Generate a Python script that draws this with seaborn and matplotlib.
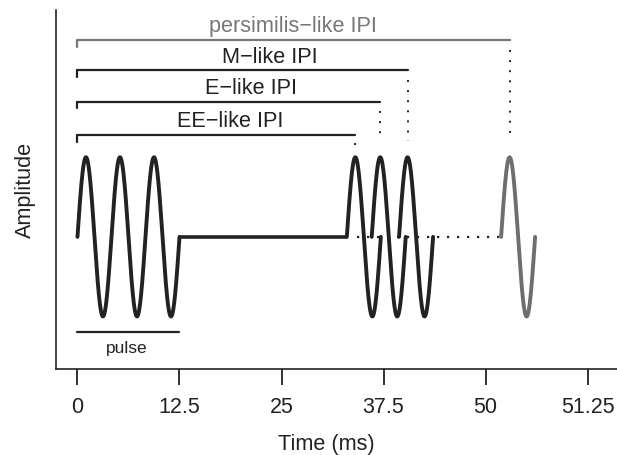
import numpy as np
import pandas as pd
import matplotlib
matplotlib.use("Agg")
import matplotlib.pyplot as plt
import seaborn as sns

# pulse onsets (ms), number of cycles in each pulse, and group of each pulse
onsets = [0.0, 33.0, 36.05, 39.4, 51.9]
cycles = [3, 1, 1, 1, 1]
groups = ["train", "EE", "E", "M", "persimilis"]
period = 12.5 / 3  # ms per sine cycle

# IPI brackets
ipi_names = ["EE\u2212like IPI", "E\u2212like IPI", "M\u2212like IPI", "persimilis\u2212like IPI"]
ipi_levels = [1.28, 1.70, 2.09, 2.47]
ipi_label_x = [18.7, 21.3, 23.6, 26.4]
ipi_colors = ["#222222", "#222222", "#222222", "#777777"]

tick_pos = [0, 12.5, 25, 37.5, 50, 62.5]
tick_labels = ["0", "12.5", "25", "37.5", "50", "51.25"]

dark = "#222222"
grey = "#6e6e6e"

sns.set_style("ticks")
plt.rcParams["font.family"] = ["Liberation Sans", "DejaVu Sans"]
plt.rcParams["text.color"] = dark
plt.rcParams["axes.labelcolor"] = dark
plt.rcParams["xtick.color"] = dark

fig = plt.figure(figsize=(6.17, 4.55), dpi=100)
ax = fig.add_axes([56 / 617, 86 / 455, 561 / 617, 359 / 455])

# build the waveforms
rows = []
for t0, n, g in zip(onsets, cycles, groups):
    t = np.linspace(t0, t0 + n * period, 200 * n)
    amp = np.sin(2 * np.pi * (t - t0) / period)
    rows.append(pd.DataFrame({"time": t, "amp": amp, "pulse": g}))
waves = pd.concat(rows, ignore_index=True)

palette = {"train": dark, "EE": dark, "E": dark, "M": dark, "persimilis": grey}

# baseline between the train and the test pulses
train_end = onsets[0] + cycles[0] * period
ax.plot([train_end, onsets[1]], [0, 0], color=dark, lw=2.6, solid_capstyle="butt")
ax.plot([34.3, onsets[4]], [0, 0], color=dark, lw=1.6, linestyle=(0, (1, 3.5)))

sns.lineplot(data=waves, x="time", y="amp", hue="pulse", units="pulse",
             estimator=None, sort=False, palette=palette, lw=2.8,
             legend=False, ax=ax)

# IPI brackets
peaks = [t0 + period / 4 for t0 in onsets[1:]]
for name, end, lev, lx, c in zip(ipi_names, peaks, ipi_levels, ipi_label_x, ipi_colors):
    ax.plot([0, 0, end], [lev - 0.085, lev, lev], color=c, lw=1.6)
    ax.plot([end, end], [lev - 0.12, 1.2], color=dark, lw=1.4, linestyle=(0, (1, 4.2)))
    ax.text(lx, lev + 0.1, name, ha="center", va="baseline", fontsize=15.6, color=c)

# pulse bar
ax.plot([0, train_end], [-1.19, -1.19], color=dark, lw=1.6)
ax.text(6.0, -1.40, "pulse", ha="center", va="center", fontsize=12.5, color=dark)

ax.set_xlim(-2.63, 66.1)
ax.set_ylim(-1.66, 2.85)
ax.set_xticks(tick_pos)
ax.set_xticklabels(tick_labels)
ax.set_yticks([])
ax.tick_params(axis="x", length=11.5, width=1.3, labelsize=15.5, pad=9)
ax.set_xlabel("Time (ms)", fontsize=15.6, va="baseline")
ax.set_ylabel("Amplitude", fontsize=15.6, va="center")
ax.xaxis.set_label_coords(0.481, -0.2256)
ax.yaxis.set_label_coords(-0.0553, 0.5)
sns.despine(ax=ax)
for s in ["left", "bottom"]:
    ax.spines[s].set_linewidth(1.2)
    ax.spines[s].set_color(dark)

fig.savefig("out.png", dpi=100)
